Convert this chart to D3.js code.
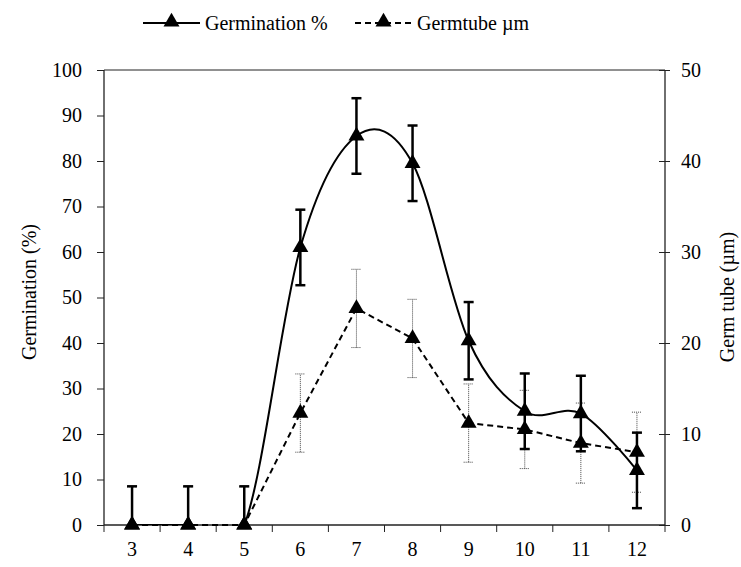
<!DOCTYPE html>
<html>
<head>
  <style>
    body { margin: 0; background: white; }
    svg text { font-family: Tinos, Times, "Liberation Serif", serif !important; font-size: 20px; }
  </style>
</head>
<body>
<svg id="chart" width="741" height="567"></svg>
<script src="https://cdn.jsdelivr.net/npm/d3@7"></script>
<script>
  // values
  const hours = [3, 4, 5, 6, 7, 8, 9, 10, 11, 12];
  const germination = [0, 0, 0, 61, 85.5, 79.5, 40.5, 25, 24.5, 12];
  const germinationErr = [8.5, 8.5, 8.5, 8.3, 8.3, 8.3, 8.5, 8.3, 8.3, 8.3];
  const germtube = [0, 0, 0, 12.3, 23.8, 20.5, 11.2, 10.5, 9, 8];
  const germtubeErr = [4.2, 4.2, 4.2, 4.3, 4.3, 4.3, 4.3, 4.3, 4.4, 4.4];
  const leftTicks = [0, 10, 20, 30, 40, 50, 60, 70, 80, 90, 100];
  const rightTicks = [0, 10, 20, 30, 40, 50];

  const svg = d3.select("#chart");
  const m = { left: 104, right: 665, top: 70, bottom: 525 };

  let x = d3.scaleBand().domain(hours).range([m.left, m.right]);
  let yL = d3.scaleLinear().domain([0, 100]).range([m.bottom, m.top]);
  let yR = d3.scaleLinear().domain([0, 50]).range([m.bottom, m.top]);
  let cx = d => x(d) + x.bandwidth() / 2;

  svg.append("clipPath").attr("id", "clip")
    .append("rect").attr("x", m.left).attr("y", m.top - 40)
    .attr("width", m.right - m.left).attr("height", m.bottom - m.top + 40);

  // top border
  svg.append("line")
    .attr("x1", m.left).attr("x2", m.right).attr("y1", m.top).attr("y2", m.top)
    .attr("stroke", "#222").attr("stroke-width", 1);

  // axes
  let leftAxis = d3.axisLeft(yL).tickValues(leftTicks).tickSize(7).tickPadding(15);
  let gL = svg.append("g").attr("transform", `translate(${m.left},0)`).call(leftAxis);

  let rightAxis = d3.axisRight(yR).tickValues(rightTicks).tickSize(5).tickPadding(11);
  let gR = svg.append("g").attr("transform", `translate(${m.right},0)`).call(rightAxis);
  gR.selectAll(".tick line").attr("x1", -6).attr("x2", 5);

  let xAxis = d3.axisBottom(x).tickSize(0).tickPadding(17);
  let gX = svg.append("g").attr("transform", `translate(0,${m.bottom})`).call(xAxis);
  // tick marks at band edges
  gX.selectAll(".edge").data(hours.concat(["end"])).enter().append("line")
    .attr("class", "edge")
    .attr("x1", (d, i) => m.left + i * x.bandwidth())
    .attr("x2", (d, i) => m.left + i * x.bandwidth())
    .attr("y1", 0).attr("y2", 7)
    .attr("stroke", "#222");

  [gL, gR, gX].forEach(g => {
    g.attr("font-family", null).attr("font-size", null);
    g.selectAll("path.domain").attr("stroke", "#222").attr("stroke-width", 1.3);
    g.selectAll(".tick line").attr("stroke", "#222");
    g.selectAll("text").attr("fill", "black");
  });
  gL.select("path.domain").attr("d", `M0,${m.bottom}V${m.top}`);
  gR.select("path.domain").attr("d", `M0,${m.bottom}V${m.top}`);
  gX.select("path.domain").attr("d", `M${m.left},0H${m.right}`);

  // axis titles
  svg.append("text")
    .attr("transform", "translate(36,292) rotate(-90)")
    .attr("text-anchor", "middle")
    .text("Germination (%)");
  svg.append("text")
    .attr("transform", "translate(734,297) rotate(-90)")
    .attr("text-anchor", "middle")
    .text("Germ tube (µm)");

  let plot = svg.append("g").attr("clip-path", "url(#clip)");
  let cap = 5;

  // germtube error bars (thin dotted)
  let eT = plot.append("g");
  hours.forEach((h, i) => {
    let lo = yR(germtube[i] - germtubeErr[i]), hi = yR(germtube[i] + germtubeErr[i]);
    let g = eT.append("g").attr("stroke", "#444").attr("stroke-width", 1).attr("stroke-dasharray", "1,1");
    g.append("line").attr("x1", cx(h)).attr("x2", cx(h)).attr("y1", lo).attr("y2", hi);
    g.append("line").attr("x1", cx(h) - cap).attr("x2", cx(h) + cap).attr("y1", lo).attr("y2", lo);
    g.append("line").attr("x1", cx(h) - cap).attr("x2", cx(h) + cap).attr("y1", hi).attr("y2", hi);
  });

  // germination error bars (thick)
  let eG = plot.append("g");
  hours.forEach((h, i) => {
    let lo = yL(germination[i] - germinationErr[i]), hi = yL(germination[i] + germinationErr[i]);
    let g = eG.append("g").attr("stroke", "black").attr("stroke-width", 2.5);
    g.append("line").attr("x1", cx(h)).attr("x2", cx(h)).attr("y1", lo).attr("y2", hi);
    g.append("line").attr("x1", cx(h) - cap).attr("x2", cx(h) + cap).attr("y1", lo).attr("y2", lo);
    g.append("line").attr("x1", cx(h) - cap).attr("x2", cx(h) + cap).attr("y1", hi).attr("y2", hi);
  });

  // lines (smoothed germination line clipped at the x axis)
  let germLine = d3.line().x((d, i) => cx(hours[i])).y(d => yL(d)).curve(d3.curveCardinal.tension(0));
  plot.append("path").datum(germination).attr("d", germLine)
    .attr("fill", "none").attr("stroke", "black").attr("stroke-width", 2);

  let tubeLine = d3.line().x((d, i) => cx(hours[i])).y(d => yR(d));
  svg.append("path").datum(germtube).attr("d", tubeLine)
    .attr("fill", "none").attr("stroke", "black").attr("stroke-width", 2)
    .attr("stroke-dasharray", "6,4");

  // markers
  let tri = d3.symbol().type(d3.symbolTriangle).size(110);
  svg.append("g").selectAll("path").data(germtube).enter().append("path")
    .attr("d", tri).attr("fill", "black")
    .attr("transform", (d, i) => `translate(${cx(hours[i])},${yR(d)})`);
  svg.append("g").selectAll("path").data(germination).enter().append("path")
    .attr("d", tri).attr("fill", "black")
    .attr("transform", (d, i) => `translate(${cx(hours[i])},${yL(d)})`);

  // legend
  let legend = [
    { label: "Germination %", dash: null, x: 143 },
    { label: "Germtube µm", dash: "6,4", x: 355 }
  ];
  let lg = svg.append("g");
  legend.forEach(l => {
    lg.append("line").attr("x1", l.x).attr("x2", l.x + 57).attr("y1", 23).attr("y2", 23)
      .attr("stroke", "black").attr("stroke-width", 2).attr("stroke-dasharray", l.dash);
    lg.append("path").attr("d", tri).attr("fill", "black")
      .attr("transform", `translate(${l.x + 28.5},22)`);
    lg.append("text").attr("x", l.x + 62).attr("y", 30).text(l.label);
  });
</script>
</body>
</html>
